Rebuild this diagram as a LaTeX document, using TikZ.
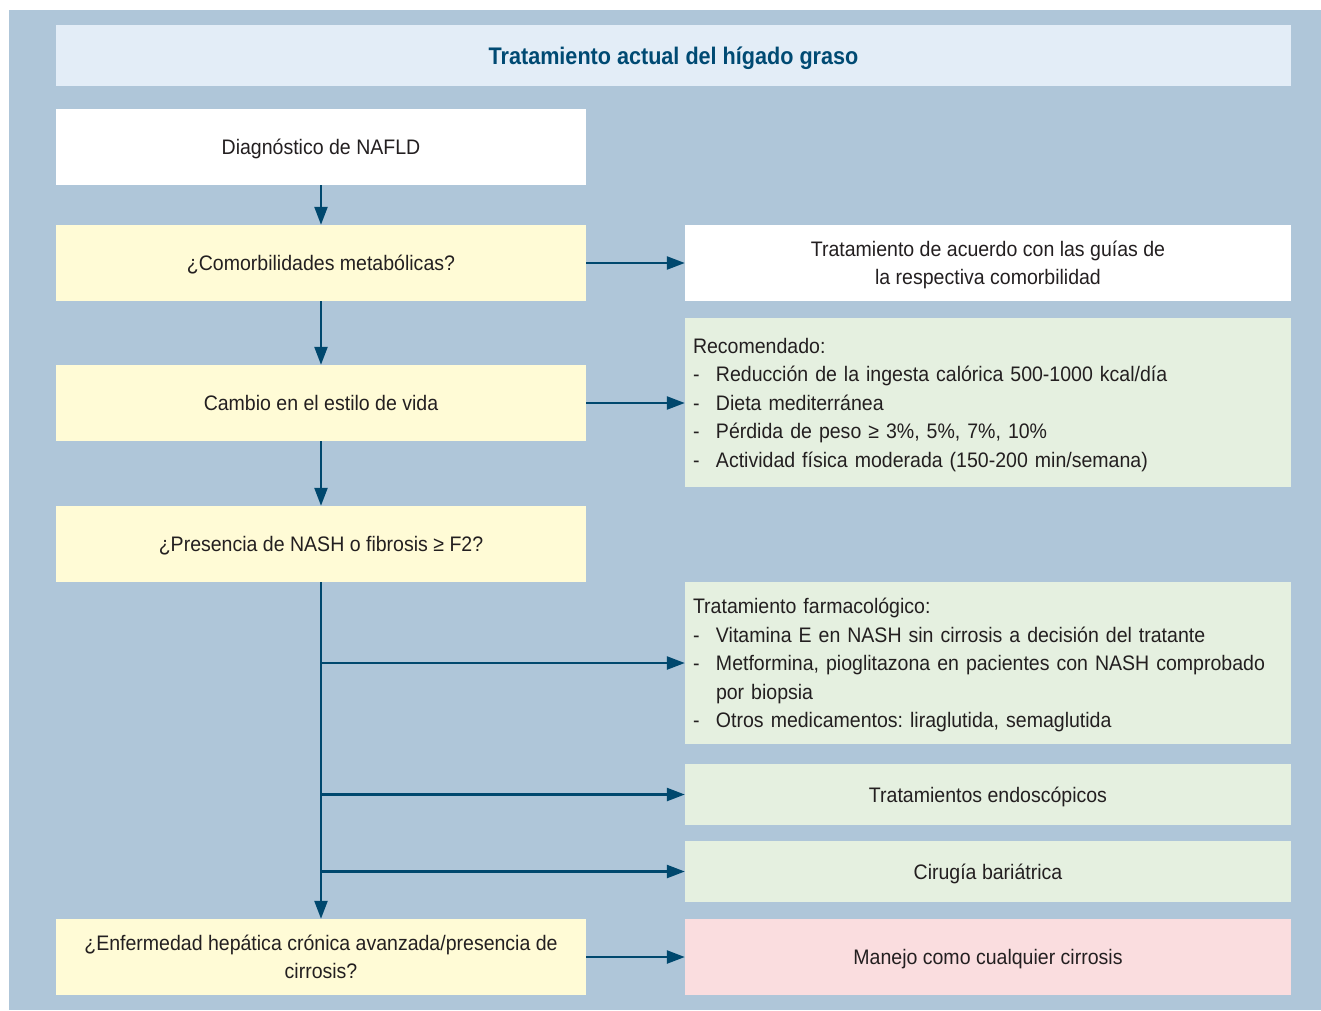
\documentclass[tikz,border=0pt]{standalone}
\usepackage{fontspec}
\setmainfont{Liberation Sans}[FakeStretch=0.93]
\newfontfamily\titlefont{Liberation Sans}[FakeStretch=0.9]
\usetikzlibrary{arrows.meta}
\definecolor{panel}{HTML}{AFC6D9}
\definecolor{titlebg}{HTML}{E3EDF7}
\definecolor{yel}{HTML}{FFFBD6}
\definecolor{grn}{HTML}{E5F0E0}
\definecolor{pnk}{HTML}{FADDDF}
\definecolor{arr}{HTML}{00486E}
\definecolor{txt}{HTML}{231F20}
\definecolor{ttl}{HTML}{004A73}
\newcommand{\fx}[1]{\raisebox{0pt}[15.3pt][0pt]{#1}}
\newcommand{\itm}[1]{\fx{\makebox[23pt][l]{-}#1}}
\frenchspacing
\begin{document}
\begin{tikzpicture}[x=1pt,y=-1pt,
  box/.style={rectangle,inner sep=0pt,minimum width=530pt,minimum height=76pt,
    font=\fontsize{21}{28.5}\selectfont\frenchspacing,text=txt,align=center},
  rbox/.style={box,minimum width=606pt},
  lbox/.style={rectangle,inner ysep=0pt,inner xsep=8pt,text width=590pt,
    font=\fontsize{21}{28.5}\selectfont\frenchspacing,text=txt,align=left,fill=grn},
  conn/.style={draw=arr,line width=2.4pt,-{Triangle[length=18pt,width=13pt]}}
]
\useasboundingbox (0,0) rectangle (1321,1010);
\fill[white] (0,0) rectangle (1321,1010);
\fill[panel] (9,10) rectangle (1321,1010);

\node[rectangle,inner sep=0pt,minimum width=1235pt,minimum height=61pt,fill=titlebg,
  text=ttl,font=\titlefont\bfseries\fontsize{24}{28}\selectfont] (title) at (673.5,55.5)
  {\raisebox{0pt}[17.5pt][0pt]{Tratamiento actual del hígado graso}};

\node[box,fill=white] (diag) at (321,147) {\fx{Diagnóstico de NAFLD}};
\node[box,fill=yel] (como) at (321,263) {\fx{¿Comorbilidades metabólicas?}};
\node[rbox,fill=white] (guia) at (988,263) {\fx{Tratamiento de acuerdo con las guías de}\\\fx{la respectiva comorbilidad}};
\node[box,fill=yel] (cambio) at (321,403) {\fx{Cambio en el estilo de vida}};
\node[lbox,minimum height=169pt] (reco) at (988,402.5) {\fx{Recomendado:}\\
\itm{Reducción de la ingesta calórica 500-1000 kcal/día}\\
\itm{Dieta mediterránea}\\
\itm{Pérdida de peso ≥ 3\%, 5\%, 7\%, 10\%}\\
\itm{Actividad física moderada (150-200 min/semana)}};
\node[box,fill=yel] (nash) at (321,544) {\fx{¿Presencia de NASH o fibrosis ≥ F2?}};
\node[lbox,minimum height=162pt] (farma) at (988,663) {\fx{Tratamiento farmacológico:}\\
\itm{Vitamina E en NASH sin cirrosis a decisión del tratante}\\
\itm{Metformina, pioglitazona en pacientes con NASH comprobado}\\
\fx{\hspace*{23pt}por biopsia}\\
\itm{Otros medicamentos: liraglutida, semaglutida}};
\node[rbox,fill=grn,minimum height=61pt] (endo) at (988,794.5) {\fx{Tratamientos endoscópicos}};
\node[rbox,fill=grn,minimum height=61pt] (ciru) at (988,871.5) {\fx{Cirugía bariátrica}};
\node[box,fill=yel] (enf) at (321,957) {\fx{¿Enfermedad hepática crónica avanzada/presencia de}\\\fx{cirrosis?}};
\node[rbox,fill=pnk] (cirr) at (988,957) {\fx{Manejo como cualquier cirrosis}};

\coordinate (b1) at (nash.south |- farma.west);
\coordinate (b2) at (nash.south |- endo.west);
\coordinate (b3) at (nash.south |- ciru.west);

\draw[conn] (diag) -- (como);
\draw[conn] (como) -- (cambio);
\draw[conn] (cambio) -- (nash);
\draw[conn] (nash) -- (enf);
\draw[conn] (como) -- (guia);
\draw[conn] (cambio.east) -- (cambio.east -| reco.west);
\draw[conn] (enf) -- (cirr);
\draw[conn] (b1) -- (farma.west);
\draw[conn] (b2) -- (endo.west);
\draw[conn] (b3) -- (ciru.west);
\end{tikzpicture}
\end{document}
